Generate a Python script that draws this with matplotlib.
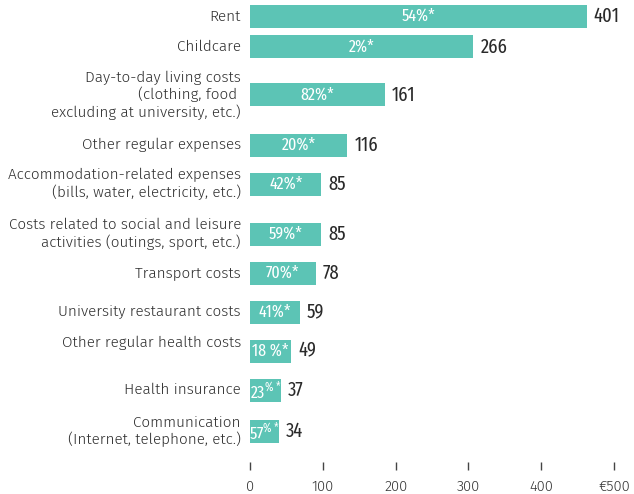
import matplotlib
matplotlib.use('Agg')
import matplotlib.pyplot as plt

# Data
categories = [
    'Rent',
    'Childcare',
    'Day-to-day living costs\n(clothing, food \nexcluding at university, etc.)',
    'Other regular expenses',
    'Accommodation-related expenses\n(bills, water, electricity, etc.)',
    'Costs related to social and leisure\nactivities (outings, sport, etc.)',
    'Transport costs',
    'University restaurant costs',
    'Other regular health costs\n ',
    'Health insurance',
    'Communication\n(Internet, telephone, etc.)',
]
amounts = [401, 266, 161, 116, 85, 85, 78, 59, 49, 37, 34]
shares = ['54%*', '2%*', '82%*', '20%*', '42%*', '59%*', '70%*', '41%*', '18 %*',
          r'23$^{\mathrm{\%*}}$', r'57$^{\mathrm{\%*}}$']
tick_values = [0, 100, 200, 300, 400, 500]
tick_labels = ['0', '100', '200', '300', '400', '€500']

# layout (pixel rows of the bars)
rows = [16.5, 47, 95, 145, 184, 234, 273, 312, 351, 390, 431]

teal = '#5cc4b5'
sans = ['Fira Sans', 'Open Sans', 'DejaVu Sans']
narrow = ['Fira Sans Extra Condensed', 'Fira Sans Condensed', 'DejaVu Sans']
plt.rcParams['mathtext.fontset'] = 'custom'
plt.rcParams['mathtext.rm'] = 'Fira Sans Extra Condensed'

fig = plt.figure(figsize=(6.34, 4.94), dpi=100)
ax = fig.add_axes([250 / 634, 32 / 494, 375 / 634, 462 / 494])

ax.barh(rows, amounts, height=23, color=teal)
ax.set_ylim(462, 0)
ax.set_xlim(0, 375 / 0.84)

for y, cat, v, s in zip(rows, categories, amounts, shares):
    ax.annotate(cat, xy=(0, y), xytext=(-6.5, 0), textcoords='offset points',
                ha='right', va='center', multialignment='right',
                fontsize=11, color='#2e2e2e', family=sans, fontweight=300,
                linespacing=1.15)
    ax.annotate(str(v), xy=(v, y), xytext=(5, 0), textcoords='offset points',
                ha='left', va='center', fontsize=14.5, color='#2a2a2a',
                family=narrow, fontweight='normal')
    ax.text(v / 2, y, s, ha='center', va='center', fontsize=12.5,
            color='white', family=narrow, fontweight='normal')

for side in ['top', 'right', 'left', 'bottom']:
    ax.spines[side].set_visible(False)
ax.tick_params(left=False, labelleft=False, bottom=False, labelbottom=False)

# the printed scale is not the bar scale in the original
k = 0.84 / 0.728
sec = ax.secondary_xaxis('bottom', functions=(lambda x: x * k, lambda x: x / k))
sec.set_xticks(tick_values)
sec.set_xticklabels(tick_labels)
sec.spines['bottom'].set_visible(False)
sec.tick_params(length=6, width=1, color='#444444', pad=7, labelsize=10.5,
                labelcolor='#333333')
for t in sec.get_xticklabels():
    t.set_family(sans)
    t.set_fontweight(300)

plt.savefig('out.png', dpi=100)
